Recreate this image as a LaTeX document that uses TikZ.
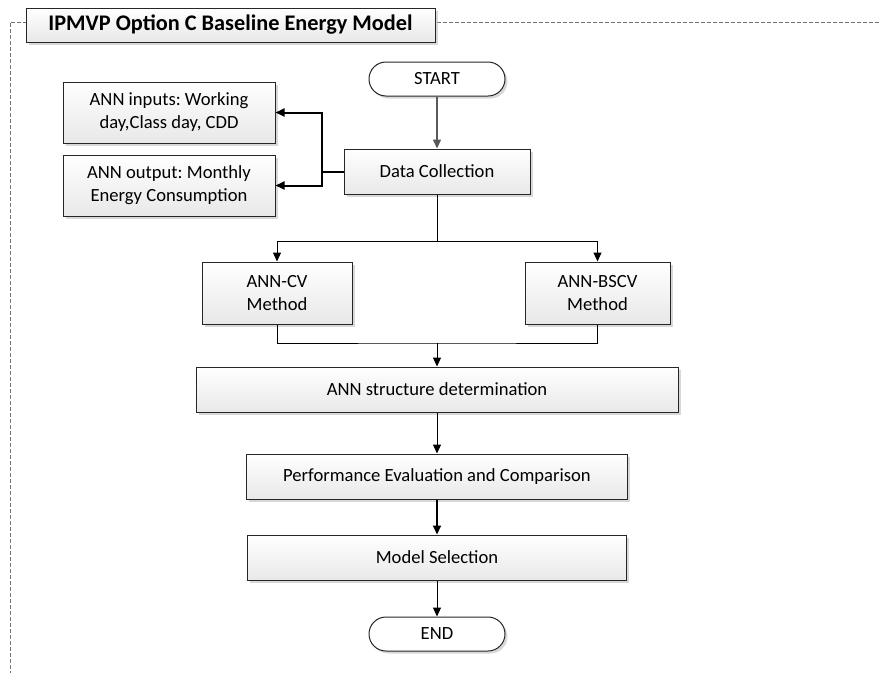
\documentclass[tikz,border=0pt]{standalone}
\usepackage{fontspec}
\setmainfont{Carlito}
\usepackage{tikz}
\usetikzlibrary{arrows.meta}
\usetikzlibrary{positioning}
\usetikzlibrary{shadows}
\frenchspacing

\begin{document}
\begin{tikzpicture}[->,>={Triangle[length=9pt,width=8pt]},x=1pt,y=1pt,line width=1pt,
  main node/.style={rectangle,draw=black!85,line width=1pt,top color=white,bottom color=black!9,
    drop shadow={shadow xshift=2.5pt,shadow yshift=-2.5pt,fill=black!30,opacity=0.5},
    align=center,inner sep=0pt,font=\fontsize{18.6}{23}\selectfont},
  term node/.style={main node,rounded corners=17pt,bottom color=white,drop shadow={opacity=0},
    minimum width=136pt,minimum height=34pt},
  node distance=92.5pt]

  \useasboundingbox (0,0) rectangle (879,-673);
  \draw[-,black!55,dash pattern=on 4pt off 2pt] (879,-22) -- (10,-22) -- (10,-673);

  \node[main node,minimum width=409pt,minimum height=34pt,font=\fontsize{22.3}{27}\bfseries] (title) at (230.5,-25) {IPMVP Option C Baseline Energy Model};

  \node[term node] (start) at (437,-79) {START};
  \node[main node,minimum width=186pt,minimum height=45pt] (data) [below of=start] {Data Collection};
  \node[main node,minimum width=212pt,minimum height=61pt] (in) at (169,-112.5) {ANN inputs: Working\\day,Class day, CDD};
  \node[main node,minimum width=212pt,minimum height=61pt] (out) at (169,-185.5) {ANN output: Monthly\\Energy Consumption};
  \node[main node,minimum width=150pt,minimum height=62pt] (cv) at (277,-293) {ANN-CV\\Method};
  \node[main node,minimum width=145pt,minimum height=62pt] (bscv) at (597.5,-293) {ANN-BSCV\\Method};
  \node[main node,minimum width=482pt,minimum height=45pt] (struct) [below of=data,node distance=218pt] {ANN structure determination};
  \node[main node,minimum width=381pt,minimum height=45pt] (perf) [below of=struct,node distance=87pt] {Performance Evaluation and Comparison};
  \node[main node,minimum width=379pt,minimum height=45pt] (sel) [below of=perf,node distance=81pt] {Model Selection};
  \node[term node] (end) [below of=sel,node distance=76.5pt] {END};

  \coordinate (jn) at (322,-171.5);
  \coordinate (split) at (437,-241);
  \coordinate (merge) at (437,-343);

  \draw[black!65,line width=1.5pt] (start) -- (data);
  \draw[-,line width=2pt] (data.west) -- (jn);
  \draw[line width=2pt] (jn) |- (in.east);
  \draw[line width=2pt] (jn) |- (out.east);
  \draw[-] (data) -- (split);
  \draw (split) -| (cv.north);
  \draw (split) -| (bscv.north);
  \draw[-] (cv.south) |- (merge) -| (bscv.south);
  \draw (merge) -- (struct);
  \draw (struct) -- (perf);
  \draw[line width=2pt] (perf) -- (sel);
  \draw (sel) -- (end);
\end{tikzpicture}
\end{document}
